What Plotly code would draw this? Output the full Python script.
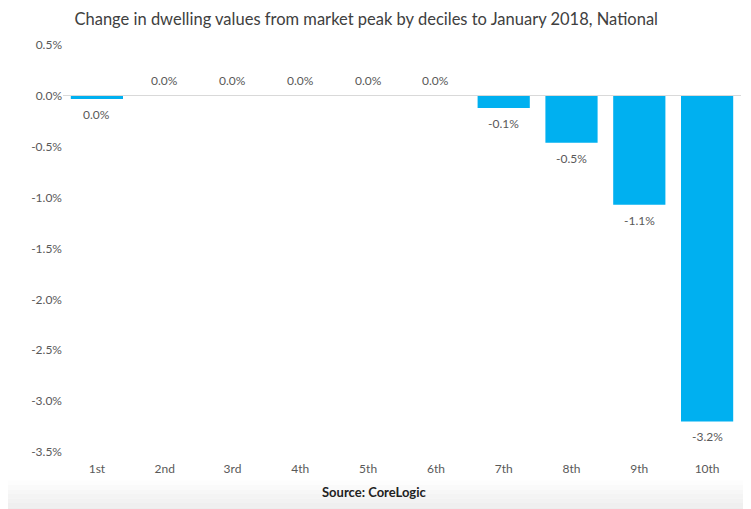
import plotly.graph_objects as go

# deciles and change in dwelling values from market peak (%)
deciles = ["1st", "2nd", "3rd", "4th", "5th", "6th", "7th", "8th", "9th", "10th"]
change_pct = [-0.03, 0.0, 0.0, 0.0, 0.0, 0.0, -0.12, -0.46, -1.07, -3.2]
y_ticks = [0.5, 0.0, -0.5, -1.0, -1.5, -2.0, -2.5, -3.0, -3.5]

title_text = "Change in dwelling values from market peak by deciles to January 2018, National"
source_text = "<b>Source: CoreLogic</b>"

FONT = "Lato, Carlito, Calibri, sans-serif"
TXT = "#595959"
BLUE = "#00B0F0"

fig = go.Figure()

fig.add_trace(go.Bar(
    x=deciles,
    y=change_pct,
    marker=dict(color=BLUE, line_width=0),
    hoverinfo="x+y",
    showlegend=False,
))

# data labels: below the bar end for negatives, above the axis for zero
for d, v in zip(deciles, change_pct):
    neg = v < 0
    fig.add_annotation(
        x=d, y=v, xref="x", yref="y",
        text=f"{v:.1f}%".replace("-0.0", "0.0"),
        showarrow=False,
        yanchor="top" if neg else "bottom",
        yshift=-6 if neg else 6,
        font=dict(family=FONT, size=12, color=TXT),
    )

# soft grey band at the bottom (stepped gradient)
band = ["#fdfdfd", "#fafafa", "#f7f7f7", "#f4f4f4", "#f2f2f2", "#efefef", "#ededed"]
step = 0.011
for i, c in enumerate(band):
    y_top = -0.07 - i * step
    y_bot = y_top - step if i < len(band) - 1 else -0.3
    fig.add_shape(
        type="rect", xref="paper", yref="paper", layer="below",
        x0=-0.2, x1=1.2, y0=y_bot, y1=y_top,
        fillcolor=c, line_width=0,
    )

fig.add_annotation(
    text=source_text, xref="paper", yref="paper",
    x=0.46, y=-0.098, yanchor="middle", showarrow=False,
    font=dict(family=FONT, size=13, color="#222222"),
)

fig.update_layout(
    width=751, height=509,
    title=dict(text=title_text, x=0.477, xanchor="center", y=0.978, yanchor="middle",
               font=dict(family=FONT, size=16.5, color="#404040")),
    font=dict(family=FONT, size=12, color=TXT),
    plot_bgcolor="white", paper_bgcolor="white",
    bargap=0.23,
    margin=dict(l=55, r=18, t=37, b=65),
    xaxis=dict(
        showline=False, showgrid=False, zeroline=False, ticks="",
        ticklabelstandoff=8,
        tickfont=dict(family=FONT, size=12, color=TXT),
    ),
    yaxis=dict(
        range=[-3.5, 0.5],
        tickvals=y_ticks,
        ticktext=[f"{t:.1f}%" for t in y_ticks],
        showgrid=False, zeroline=True, zerolinecolor="#d9d9d9", zerolinewidth=1,
        showline=False, ticks="",
        tickfont=dict(family=FONT, size=12, color=TXT),
    ),
)

fig.write_html("out.html")
